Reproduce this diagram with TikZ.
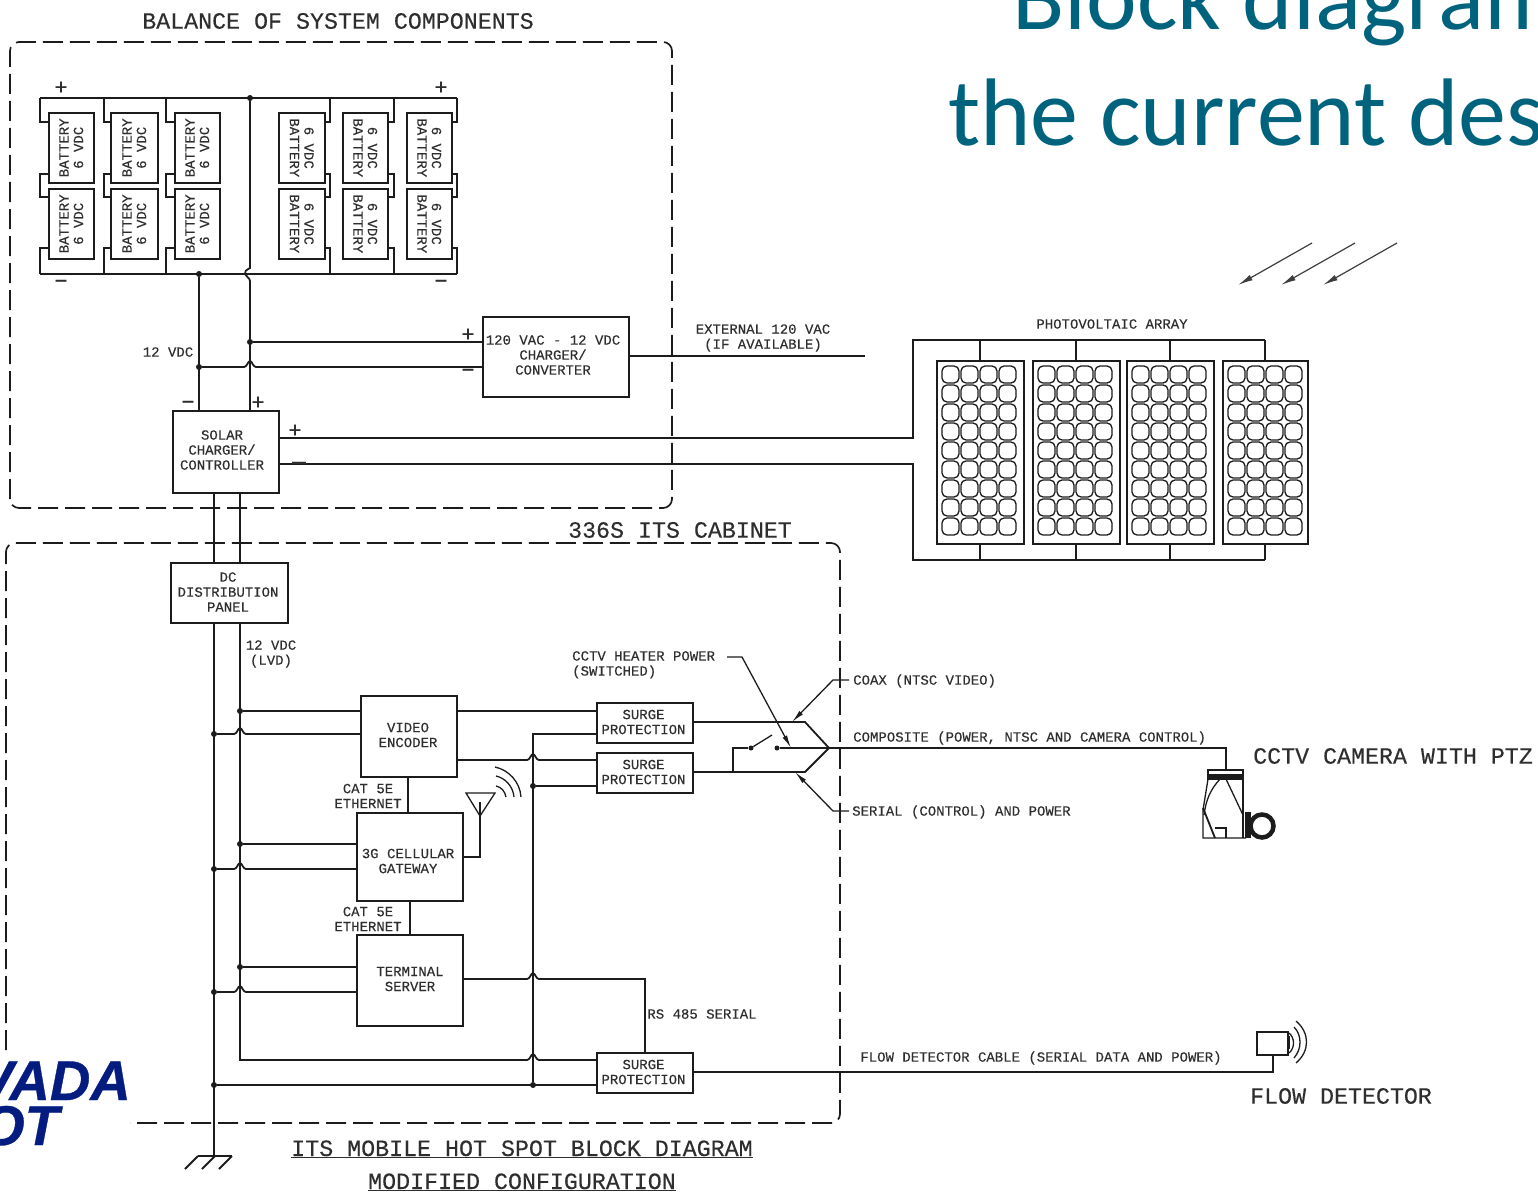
\documentclass[tikz,border=0pt]{standalone}
\usepackage{fontspec}
\setmainfont{Liberation Mono}[FakeBold=0.25]
\newfontfamily\titlefont{Carlito}
\newfontfamily\logofont{Liberation Sans}[BoldFont=* Bold,BoldItalicFont=* Bold Italic,FakeBold=0.6]
\usetikzlibrary{arrows.meta}
\definecolor{ink}{HTML}{1C1C1C}
\definecolor{inktext}{HTML}{2E2E2E}
\definecolor{teal}{HTML}{00637E}
\definecolor{logoblue}{HTML}{041C80}
\tikzset{
  wire/.style={draw=ink,line width=1.8pt,line join=miter},
  thin wire/.style={draw=ink,line width=1.3pt},
  box/.style={draw=ink,line width=1.8pt,inner sep=0pt,anchor=north west,align=center,text=inktext,
     font=\fontsize{14}{15.5}\selectfont},
  boxtext/.style={inner sep=0pt,align=center,text=inktext,font=\fontsize{14}{15}\selectfont},
  small/.style={inner sep=0pt,text=inktext,font=\fontsize{14}{15}\selectfont,align=left},
  big/.style={inner sep=0pt,text=inktext,font=\fontsize{23.3}{25}\selectfont},
  batt/.style={draw=ink,line width=1.6pt,inner sep=0pt,anchor=north west,minimum height=70pt,text=inktext},
  cabinet/.style={draw=ink,line width=1.7pt,dash pattern=on 20pt off 7pt,rounded corners=9pt},
  dot/.style={circle,fill=ink,inner sep=0pt,minimum size=6pt},
  panel/.style={draw=ink,line width=1.7pt,inner sep=0pt,anchor=north west,minimum height=183pt},
  cell/.style={draw=ink,line width=1.3pt,rounded corners=5pt},
  leader/.style={draw=ink,line width=1.3pt,-{Latex[length=13pt,width=5pt]}},
  ray/.style={draw=ink!85,line width=1.2pt,-{Latex[length=15pt,width=6pt]}},
  sign/.style={inner sep=0pt,text=inktext,font=\fontsize{22}{22}\selectfont},
}
% a wire hops over a crossing line: enters at x-6, leaves at x+6
\def\hop{ .. controls +(3,0) and +(-2,0) .. ++(6,-6) .. controls +(2,0) and +(-3,0) .. ++(6,6)}
\begin{document}
\begin{tikzpicture}[x=1pt,y=-1pt]
\useasboundingbox (0,0) rectangle (1538,1193);
\clip (0,0) rectangle (1538,1193);

% ---- slide title
\node[anchor=base west,inner sep=0pt,text=teal,font=\titlefont\fontsize{96}{96}\selectfont] (t1) at (1012,30) {Block diagram};
\node[anchor=base west,inner sep=0pt,text=teal,font=\titlefont\fontsize{96}{96}\selectfont] (t2) at (948,146) {the current des};

% ---- logo
\node[anchor=base east,inner sep=0pt,text=logoblue,font=\logofont\bfseries\itshape\fontsize{56}{56}\selectfont] (logoA) at (131,1100) {VADA};
\node[anchor=base east,inner sep=0pt,text=logoblue,font=\logofont\bfseries\itshape\fontsize{56}{56}\selectfont] (logoB) at (59,1145) {OT};

% ---- enclosures
\draw[cabinet] (10,508) -- (10,42) -- (672,42) -- (672,508) -- cycle;
\draw[cabinet] (6,1050) -- (6,543) -- (840,543) -- (840,1123) -- (130,1123);
\node[big] (balT) at (338,21) {BALANCE OF SYSTEM COMPONENTS};
\node[big] (cabT) at (680,530) {336S ITS CABINET};

% ---- batteries
\foreach \n/\x/\w in {1/48/45,2/110/47,3/174/45}{
  \node[batt,minimum width=\w pt] (b\n t) at (\x,112) {\rotatebox{90}{\parbox{60pt}{\centering\fontsize{14}{14.5}\selectfont BATTERY\\6 VDC}}};
  \node[batt,minimum width=\w pt] (b\n b) at (\x,188) {\rotatebox{90}{\parbox{60pt}{\centering\fontsize{14}{14.5}\selectfont BATTERY\\6 VDC}}};
}
\foreach \n/\x/\w in {4/278/46,5/342/45,6/406/45}{
  \node[batt,minimum width=\w pt] (b\n t) at (\x,112) {\rotatebox{-90}{\parbox{60pt}{\centering\fontsize{14}{14.5}\selectfont 6 VDC\\BATTERY}}};
  \node[batt,minimum width=\w pt] (b\n b) at (\x,188) {\rotatebox{-90}{\parbox{60pt}{\centering\fontsize{14}{14.5}\selectfont 6 VDC\\BATTERY}}};
}
\coordinate (busTL) at (40,98);
\coordinate (busTR) at (457,98);
\coordinate (busBL) at (40,274);
\coordinate (busBR) at (457,274);
\draw[wire] (busTL) -- (busTR);
\draw[wire] (busBL) -- (busBR);
\foreach \n/\x/\s in {1/40/west,2/104/west,3/166/west,4/330/east,5/394/east,6/457/east}{
  \draw[wire] (\x,98) -- (\x,122) -- (b\n t.\s |- 0,122);
  \draw[wire] (b\n t.\s |- 0,174) -- (\x,174) -- (\x,197) -- (b\n b.\s |- 0,197);
  \draw[wire] (b\n b.\s |- 0,248) -- (\x,248) -- (\x,274);
}
\node[sign] (pTL) at (61,88) {+};
\node[sign] (mBL) at (61,284) {−};
\node[sign] (pTR) at (441,88) {+};
\node[sign] (mBR) at (441,284) {−};

% ---- charger and solar controller
\node[box,minimum width=146pt,minimum height=80pt] (chg) at (482,316) {};
\node[boxtext] (chgT) at (553,355) {120 VAC - 12 VDC\\CHARGER/\\CONVERTER};
\node[box,minimum width=106pt,minimum height=82pt] (sol) at (172,410) {};
\node[boxtext] (solT) at (222,450) {SOLAR\\CHARGER/\\CONTROLLER};
\node[box,minimum width=117pt,minimum height=60pt] (dc) at (170,562) {};
\node[boxtext] (dcT) at (228,592) {DC\\DISTRIBUTION\\PANEL};

\node[dot] (jTop) at (250,98) {};
\node[dot] (jBot) at (199,274) {};
\node[dot] (jPos) at (250,342) {};
\node[dot] (jNeg) at (199,367) {};
\coordinate (solP) at (250,410);
\coordinate (solM) at (199,410);
\draw[wire] (jTop) -- (250,268) .. controls (246,270) and (244,272) .. (245,274) .. controls (246,277) and (250,278) .. (250,281) -- (solP);
\draw[wire] (jBot) -- (solM);
\draw[wire] (jPos) -- (jPos -| chg.west);
\draw[wire] (jNeg) -- (244,367) \hop -- (jNeg -| chg.west);
\node[sign] (pChg) at (468,335) {+};
\node[sign] (mChg) at (468,373) {−};
\node[sign] (mSol) at (188,405) {−};
\node[sign] (pSol) at (258,403) {+};
\node[small,align=center] (v12) at (168,352) {12 VDC};

\coordinate (extEnd) at (865,356);
\draw[wire] (chg.east |- extEnd) -- (extEnd);
\node[small,align=center] (ext) at (763,338) {EXTERNAL 120 VAC\\(IF AVAILABLE)};

% ---- photovoltaic array
\foreach \n/\x/\w in {1/936/87,2/1032/87,3/1126/87,4/1222/85}{
  \node[panel,minimum width=\w pt] (pv\n) at (\x,360) {};
  \foreach \c in {0,1,2,3}{\foreach \r in {0,...,8}{
    \draw[cell] ({\x+6+\c*19},{366+\r*19}) rectangle ++(17,17);
  }}
}
\coordinate (pvTL) at (913,340);
\coordinate (pvBL) at (913,560);
\draw[wire] (sol.east |- 0,438) -- (913,438) -- (pvTL) -- (pvTL -| pv4.north);
\draw[wire] (sol.east |- 0,464) -- (913,464) -- (pvBL) -- (pvBL -| pv4.south);
\foreach \n in {1,2,3,4}{
  \draw[wire] (pv\n.north) -- (pv\n.north |- pvTL);
  \draw[wire] (pv\n.south) -- (pv\n.south |- pvBL);
}
\node[sign] (pPv) at (295,431) {+};
\node[sign,font=\fontsize{28}{28}\selectfont] (mPv) at (299,467) {−};
\node[small] (pvT) at (1112,324) {PHOTOVOLTAIC ARRAY};
\coordinate (r1a) at (1312,243); \coordinate (r1b) at (1238,285);
\coordinate (r2a) at (1355,243); \coordinate (r2b) at (1281,285);
\coordinate (r3a) at (1397,243); \coordinate (r3b) at (1323,285);
\draw[ray] (r1a) -- (r1b);
\draw[ray] (r2a) -- (r2b);
\draw[ray] (r3a) -- (r3b);

% ---- cabinet equipment
\node[box,minimum width=96pt,minimum height=81pt] (enc) at (360,695) {};
\node[boxtext] (encT) at (408,735) {VIDEO\\ENCODER};
\node[box,minimum width=106pt,minimum height=88pt] (gw) at (356,812) {};
\node[boxtext] (gwT) at (408,861) {3G CELLULAR\\GATEWAY};
\node[box,minimum width=106pt,minimum height=91pt] (ts) at (356,934) {};
\node[boxtext] (tsT) at (410,979) {TERMINAL\\SERVER};
\node[box,minimum width=96pt,minimum height=40pt] (sp1) at (596,702) {};
\node[boxtext] (sp1T) at (643.5,722) {SURGE\\PROTECTION};
\node[box,minimum width=96pt,minimum height=40pt] (sp2) at (596,752) {};
\node[boxtext] (sp2T) at (643.5,772) {SURGE\\PROTECTION};
\node[box,minimum width=96pt,minimum height=40pt] (sp3) at (596,1052) {};
\node[boxtext] (sp3T) at (643.5,1072) {SURGE\\PROTECTION};

% DC rails
\coordinate (gnd) at (214,1156);
\coordinate (lvdEnd) at (240,1060);
\draw[wire] (214,492) -- (214,562);
\draw[wire] (240,492) -- (240,562);
\draw[wire] (214,622) -- (gnd);
\draw[wire] (240,622) -- (lvdEnd) -- (527,1060) \hop -- (lvdEnd -| sp3.west);
\draw[wire] (198,1156) -- (232,1156);
\draw[wire] (198,1156) -- (185,1169);
\draw[wire] (215,1156) -- (202,1169);
\draw[wire] (232,1156) -- (219,1169);
\node[small,align=center] (lvd) at (271,654) {12 VDC\\(LVD)};

% rail taps
\foreach \nm/\y/\tg in {a/711/enc,b/844/gw,c/967/ts}{
  \node[dot] (jP\nm) at (240,\y) {};
  \draw[wire] (jP\nm) -- (jP\nm -| \tg.west);
}
\foreach \nm/\y/\tg in {a/734/enc,b/869/gw,c/992/ts}{
  \node[dot] (jM\nm) at (214,\y) {};
  \draw[wire] (jM\nm) -- (234,\y) \hop -- (jM\nm -| \tg.west);
}
\node[dot] (jMd) at (214,1085) {};
\node[dot] (jR) at (533,1085) {};
\node[dot] (jS) at (533,786) {};
\coordinate (jRtop) at (533,734);
\draw[wire] (jMd) -- (jMd -| sp3.west);
\draw[wire] (jR) -- (jRtop) -- (jRtop -| sp1.west);
\draw[wire] (jS) -- (jS -| sp2.west);

% encoder to surge
\draw[wire] (enc.east |- 0,711) -- (sp1.west |- 0,711);
\draw[wire] (enc.east |- 0,760) -- (527,760) \hop -- (sp2.west |- 0,760);
% ethernet
\draw[wire] (408,776) -- (408,812);
\draw[wire] (410,900) -- (410,934);
\node[small,align=center] (cat1) at (368,796) {CAT 5E\\ETHERNET};
\node[small,align=center] (cat2) at (368,919) {CAT 5E\\ETHERNET};
% terminal server to surge 3
\draw[wire] (ts.east |- 0,979) -- (527,979) \hop -- (645,979) -- (645,1052);
\node[small] (rs) at (702,1014) {RS 485 SERIAL};
% antenna
\coordinate (antTip) at (480,816);
\coordinate (antL) at (466,793);
\coordinate (antR) at (495,793);
\draw[wire] (gw.east |- 0,857) -- (480,857) -- (antTip);
\draw[thin wire] (antL) -- (antR) -- (antTip) -- cycle;
\draw[thin wire] (480,802) -- (antTip);
\draw[thin wire] (496,786) .. controls (501,787) and (505,791) .. (506,797);
\draw[thin wire] (496,776) .. controls (505,778) and (513,786) .. (514,797);
\draw[thin wire] (495,767) .. controls (509,770) and (520,782) .. (521,797);

% outputs to field
\coordinate (mA) at (805,722);
\coordinate (mB) at (805,772);
\coordinate (mC) at (829,748);
\draw[wire] (sp1.east |- mA) -- (mA) -- (mC);
\draw[wire] (sp2.east |- mB) -- (mB) -- (mC);
\node[dot,minimum size=5pt] (swA) at (751,748) {};
\node[dot,minimum size=5pt] (swB) at (777,748) {};
\coordinate (camTop) at (1226,770);
\draw[wire] (swB) -- (1226,748) -- (camTop);
\draw[wire] (733,772) -- (733,748) -- (swA);
\draw[thin wire] (swA) -- (772,735);
\coordinate (coaxE) at (849,680);
\coordinate (serE) at (849,811);
\coordinate (heatE) at (727,657);
\draw[leader] (coaxE) -- (833,680) -- (792,722);
\draw[leader] (serE) -- (833,811) -- (795,772);
\draw[leader] (heatE) -- (742,657) -- (791,748);
\node[small,anchor=north west] (heat) at (572,651) {CCTV HEATER POWER\\(SWITCHED)};
\node[small,anchor=west] (coax) at (853,681) {COAX (NTSC VIDEO)};
\node[small,anchor=west] (comp) at (853,738) {COMPOSITE (POWER, NTSC AND CAMERA CONTROL)};
\node[small,anchor=west] (ser) at (852,812) {SERIAL (CONTROL) AND POWER};
\node[big,anchor=west] (cam) at (1253,756) {CCTV CAMERA WITH PTZ};

% camera
\fill[ink] (1208,774) rectangle (1243,780);
\draw[thin wire] (1208,770) rectangle (1243,779);
\draw[thin wire] (1208,779) -- (1203,810) -- (1203,838) -- (1246,838);
\draw[thin wire] (1243,779) -- (1243,838);
\draw[thin wire] (1220,779) .. controls (1210,790) and (1206,800) .. (1204,815);
\draw[thin wire] (1226,779) -- (1243,815);
\draw[wire] (1203,808) -- (1215,838);
\draw[thin wire] (1215,828) -- (1226,828) -- (1226,838);
\fill[ink] (1245,812) rectangle (1251,838);
\draw[draw=ink,line width=4.5pt] (1262,826) circle (11.5pt);

% flow detector
\node[draw=ink,line width=1.7pt,inner sep=0pt,anchor=north west,minimum width=31pt,minimum height=23pt] (fd) at (1256,1031) {};
\coordinate (fdC) at (1273,1072);
\draw[wire] (sp3.east |- fdC) -- (fdC) -- (fdC |- fd.south);
\draw[thin wire] (1289,1033) .. controls (1295,1038) and (1295,1048) .. (1289,1053);
\draw[thin wire] (1294,1027) .. controls (1302,1035) and (1302,1049) .. (1294,1058);
\draw[thin wire] (1296,1021) .. controls (1310,1033) and (1310,1051) .. (1296,1063);
\fill[ink] (1287,1036) -- (1290,1036) -- (1290,1049) -- (1287,1049) -- cycle;
\node[small] (fdl) at (1041,1058) {FLOW DETECTOR CABLE (SERIAL DATA AND POWER)};
\node[big] (fdn) at (1341,1096) {FLOW DETECTOR};

% bottom titles
\node[big,anchor=base] (ca1) at (522,1156) {\underline{ITS MOBILE HOT SPOT BLOCK DIAGRAM}};
\node[big,anchor=base] (ca2) at (522,1189) {\underline{MODIFIED CONFIGURATION}};
\end{tikzpicture}
\end{document}
